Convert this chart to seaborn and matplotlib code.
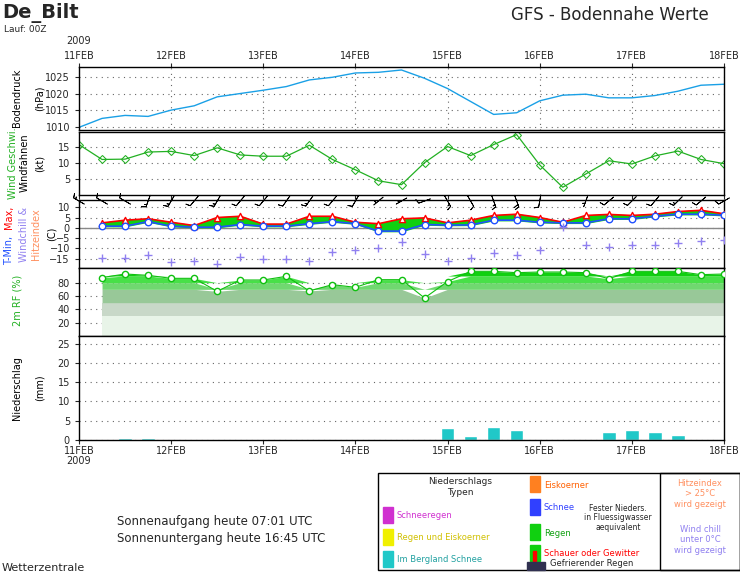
import numpy as np
import matplotlib
matplotlib.use('Agg')
import matplotlib.pyplot as plt
import matplotlib.patches as patches
import seaborn as sns

sns.set_style('white')
plt.rcParams['font.family'] = ['DejaVu Sans']

# data, hours since 11FEB 00 UTC
hours_full = np.arange(0, 169, 6)          # 29 points
hours_t = np.arange(6, 169, 6)             # 28 points
day_labels = ['11FEB', '12FEB', '13FEB', '14FEB', '15FEB', '16FEB', '17FEB', '18FEB']

pressure = [1009.8, 1012.5, 1013.4, 1013.1, 1015.0, 1016.3, 1019.0, 1020.0, 1021.0, 1022.1,
            1024.1, 1024.9, 1026.2, 1026.4, 1027.1, 1024.6, 1021.5, 1017.6, 1013.7, 1014.2,
            1017.8, 1019.5, 1019.8, 1018.7, 1018.7, 1019.4, 1020.7, 1022.5, 1022.8]
wind_speed = [15.6, 11.0, 11.1, 13.3, 13.5, 12.2, 14.6, 12.4, 12.0, 12.0, 15.4, 11.0, 7.8, 4.4,
              3.2, 10.0, 15.0, 12.2, 15.6, 18.7, 9.3, 2.4, 6.5, 10.6, 9.6, 12.1, 13.6, 11.0, 9.7]
wind_dir = [300, 300, 300, 200, 210, 220, 210, 220, 220, 215, 215, 220, 210, 230, 240, 250,
            150, 150, 160, 160, 190, 180, 200, 230, 225, 220, 225, 230, 240]
t_min = [0.8, 0.8, 3.0, 0.8, 0.3, 0.3, 1.6, 0.8, 0.8, 2.0, 3.0, 2.0, -1.6, -1.6,
         1.6, 1.3, 1.4, 3.7, 3.7, 2.7, 2.4, 2.4, 4.4, 4.4, 5.6, 6.6, 6.6, 6.1]
t_max = [2.4, 3.7, 4.4, 2.7, 1.1, 5.0, 5.6, 1.8, 1.8, 5.6, 5.6, 2.7, 2.0, 4.4,
         4.8, 2.4, 3.7, 6.0, 6.6, 5.0, 2.7, 6.0, 6.5, 6.0, 6.6, 7.9, 8.5, 6.8]
wind_chill = [-14.8, -14.8, -13.0, -16.4, -16.0, -17.5, -14.4, -15.2, -15.2, -16.0, -11.8, -10.6,
              -9.7, -6.9, -12.8, -16.0, -14.7, -12.3, -13.3, -11.0, 0.3, -8.2, -9.5, -8.2,
              -8.2, -7.4, -6.2, -5.7]
rel_hum = [87.6, 93, 91, 86.5, 86.5, 67, 84, 84, 89.5, 67.6, 77, 73, 84.5, 84.5,
           57, 81.7, 97, 97, 95, 96, 96, 95, 86, 97, 97, 97, 92, 93]
precip_hours = [12, 18, 96, 102, 108, 114, 138, 144, 150, 156, 168]
precip_mm = [0.6, 0.5, 3.0, 1.0, 3.5, 2.5, 2.0, 2.5, 2.0, 1.2, 0.3]

fs = 7
fig = plt.figure(figsize=(7.4, 5.73), dpi=100)
L, W = 79 / 740, 645 / 740

def fx(x): return x / 740
def fy(y): return 1 - y / 573

def add_panel(top, bottom):
    return fig.add_axes([L, 1 - bottom / 573, W, (bottom - top) / 573])

def style(ax, yticks, ylim):
    ax.set_xlim(0, 168)
    ax.set_ylim(*ylim)
    ax.set_yticks(yticks)
    ax.set_xticks(np.arange(0, 169, 24))
    ax.set_xticklabels([])
    for y in yticks:
        ax.axhline(y, color='#666666', lw=0.8, ls=(0, (1, 4)), zorder=0)
    for s in ax.spines.values():
        s.set_color('black')
        s.set_linewidth(1)
    ax.tick_params(labelsize=fs, length=3, direction='out', left=True, bottom=True)

def vlabel(x, ymid, text, color='black'):
    fig.text(fx(x), fy(ymid), text, rotation=90, fontsize=fs, color=color,
             ha='center', va='center')

# pressure
ax1 = add_panel(67, 130)
sns.lineplot(x=hours_full, y=pressure, ax=ax1, color='#1aa0e6', lw=1)
style(ax1, [1010, 1015, 1020, 1025], (1009, 1028))
for d in range(24, 168, 24):
    ax1.axvline(d, color='#666666', lw=0.8, ls=(0, (1, 4)), zorder=0)
ax1.xaxis.tick_top()
ax1.set_xticks(np.arange(0, 169, 24))
ax1.set_xticklabels(day_labels, fontsize=fs)
ax1.tick_params(axis='x', top=True, pad=1)
fig.text(fx(79), fy(41), '2009', fontsize=fs, ha='center', va='center')
vlabel(17, 98, 'Bodendruck')
vlabel(40, 98, '(hPa)')

# wind
ax2 = add_panel(132, 195)
sns.lineplot(x=hours_full, y=wind_speed, ax=ax2, color='#22b022', lw=0.9,
             marker='D', markersize=4, markerfacecolor='none', markeredgecolor='#22b022')
style(ax2, [5, 10, 15], (0, 19.5))
vlabel(13, 163, 'Wind Geschwi.', '#22b022')
vlabel(25, 163, 'Windfahnen')
vlabel(40, 163, '(kt)')

# temperature
ax3 = add_panel(200, 268)
style(ax3, [-15, -10, -5, 0, 5, 10], (-19.5, 13.5))
ax3.axhline(0, color='#888888', lw=1, zorder=0)
ax3.fill_between(hours_t, t_min, t_max, color='#10d010', zorder=2)
ax3.plot(hours_t, t_max, color='red', lw=1.2, zorder=3)
ax3.plot(hours_t, t_min, color='#2050ff', lw=1.2, zorder=3)
sns.scatterplot(x=hours_t, y=t_max, ax=ax3, marker='^', s=20, facecolor='white',
                edgecolor='red', linewidth=1, zorder=4)
sns.scatterplot(x=hours_t, y=t_min, ax=ax3, marker='o', s=22, facecolor='white',
                edgecolor='#2050ff', linewidth=1, zorder=4)
sns.scatterplot(x=hours_t, y=wind_chill, ax=ax3, marker='+', s=35, color='#9080f0',
                linewidth=1, zorder=4)
rad = np.deg2rad(wind_dir)
u = -np.array(wind_speed) * np.sin(rad)
v = -np.array(wind_speed) * np.cos(rad)
ax3.barbs(hours_full, np.full(len(hours_full), 13.0), u, v, length=4.2, lw=0.6,
          color='black', clip_on=False, zorder=5, pivot='middle',
          sizes=dict(spacing=0.2, height=0.35, emptybarb=0))
vlabel(9, 250, 'T-Min,', '#2050ff')
vlabel(9, 217, 'Max,', 'red')
vlabel(24, 234, 'Windchill &', '#9080f0')
vlabel(36, 234, 'Hitzeindex', '#ff9060')
vlabel(52, 234, '(C)')

# relative humidity
ax4 = add_panel(268, 336)
bands = [(0, 30, '#e8f4e8'), (30, 50, '#c8d8c8'), (50, 70, '#98c898'), (70, 80, '#70d870'),
         (80, 90, '#48e048'), (90, 100, '#10d010'), (100, 102, '#00b000')]
rh = np.array(rel_hum)
for lo, hi, c in bands:
    ax4.fill_between(hours_t, lo, np.clip(rh, lo, hi), color=c, lw=0, zorder=1)
ax4.plot(hours_t, rh, color='#10c010', lw=0.8, zorder=2)
sns.scatterplot(x=hours_t, y=rel_hum, ax=ax4, marker='o', s=20, facecolor='white',
                edgecolor='#10c010', linewidth=1, zorder=3)
style(ax4, [20, 40, 60, 80], (0, 102))
vlabel(17, 300, '2m RF (%)', '#22b022')

# precipitation
ax5 = add_panel(336, 440)
ax5.bar(precip_hours, precip_mm, width=3.5, color='#20c8c8', align='center', zorder=2)
style(ax5, [0, 5, 10, 15, 20, 25], (0, 27))
ax5.set_xticklabels(day_labels, fontsize=fs)
ax5.tick_params(axis='x', pad=1)
fig.text(fx(79), fy(461), '2009', fontsize=fs, ha='center', va='center')
vlabel(17, 388, 'Niederschlag')
vlabel(40, 388, '(mm)')

# header
fig.text(2 / 740, 1 - 18 / 573, 'De_Bilt', fontsize=14, fontweight='bold')
fig.text(4 / 740, 1 - 32 / 573, 'Lauf: 00Z', fontsize=6.5)
fig.text(610 / 740, 1 - 20 / 573, 'GFS - Bodennahe Werte', fontsize=12, ha='center')
fig.text(2 / 740, 2 / 573, 'Wetterzentrale', fontsize=8)
fig.text(117 / 740, 1 - 525 / 573, 'Sonnenaufgang heute 07:01 UTC', fontsize=8.5)
fig.text(117 / 740, 1 - 542 / 573, 'Sonnenuntergang heute 16:45 UTC', fontsize=8.5)

# legend box
fig.add_artist(patches.Rectangle((fx(378), fy(570)), fx(362), 97 / 573, fill=False,
                                 ec='black', lw=1, transform=fig.transFigure))
fig.add_artist(patches.Rectangle((fx(660), fy(570)), fx(80), 97 / 573, fill=False,
                                 ec='black', lw=1, transform=fig.transFigure))
fig.text(fx(460), fy(487), 'Niederschlags\nTypen', fontsize=6.5, ha='center', va='center',
         linespacing=1.2)
items = [(383, 518, '#d030d0', 'Schneeregen', '#d030d0'),
         (383, 540, '#f0f000', 'Regen und Eiskoerner', '#d0c000'),
         (383, 562, '#20c8c8', 'Im Bergland Schnee', '#20a0a0'),
         (530, 487, '#ff8020', 'Eiskoerner', '#ff6000'),
         (530, 510, '#3040ff', 'Schnee', '#3040ff'),
         (530, 535, '#10d010', 'Regen', '#10a010'),
         (530, 556, '#10d010', 'Schauer oder Gewitter', 'red')]
for x, y, c, t, tc in items:
    fig.add_artist(patches.Rectangle((fx(x), fy(y) - 5 / 573), fx(10), 16 / 573, color=c,
                                     transform=fig.transFigure))
    fig.text(fx(x + 14), fy(y) + 2 / 573, t, fontsize=6, color=tc, va='center')
fig.add_artist(patches.Rectangle((fx(533), fy(561)), fx(3), 10 / 573, color='red',
                                 transform=fig.transFigure))
fig.text(fx(618), fy(518), 'Fester Nieders.\nin Fluessigwasser\naequivalent', fontsize=5.5,
         ha='center', va='center', linespacing=1.1)
fig.add_artist(patches.Rectangle((fx(527), fy(570)), fx(18), 8 / 573, color='#303050',
                                 transform=fig.transFigure))
fig.text(fx(550), fy(563), 'Gefrierender Regen', fontsize=6, va='center')
fig.text(fx(700), fy(494), 'Hitzeindex\n> 25°C\nwird gezeigt', fontsize=6, color='#ff9060',
         ha='center', va='center', linespacing=1.2)
fig.text(fx(700), fy(540), 'Wind chill\nunter 0°C\nwird gezeigt', fontsize=6, color='#9080f0',
         ha='center', va='center', linespacing=1.2)

fig.savefig('out.png', dpi=100)
